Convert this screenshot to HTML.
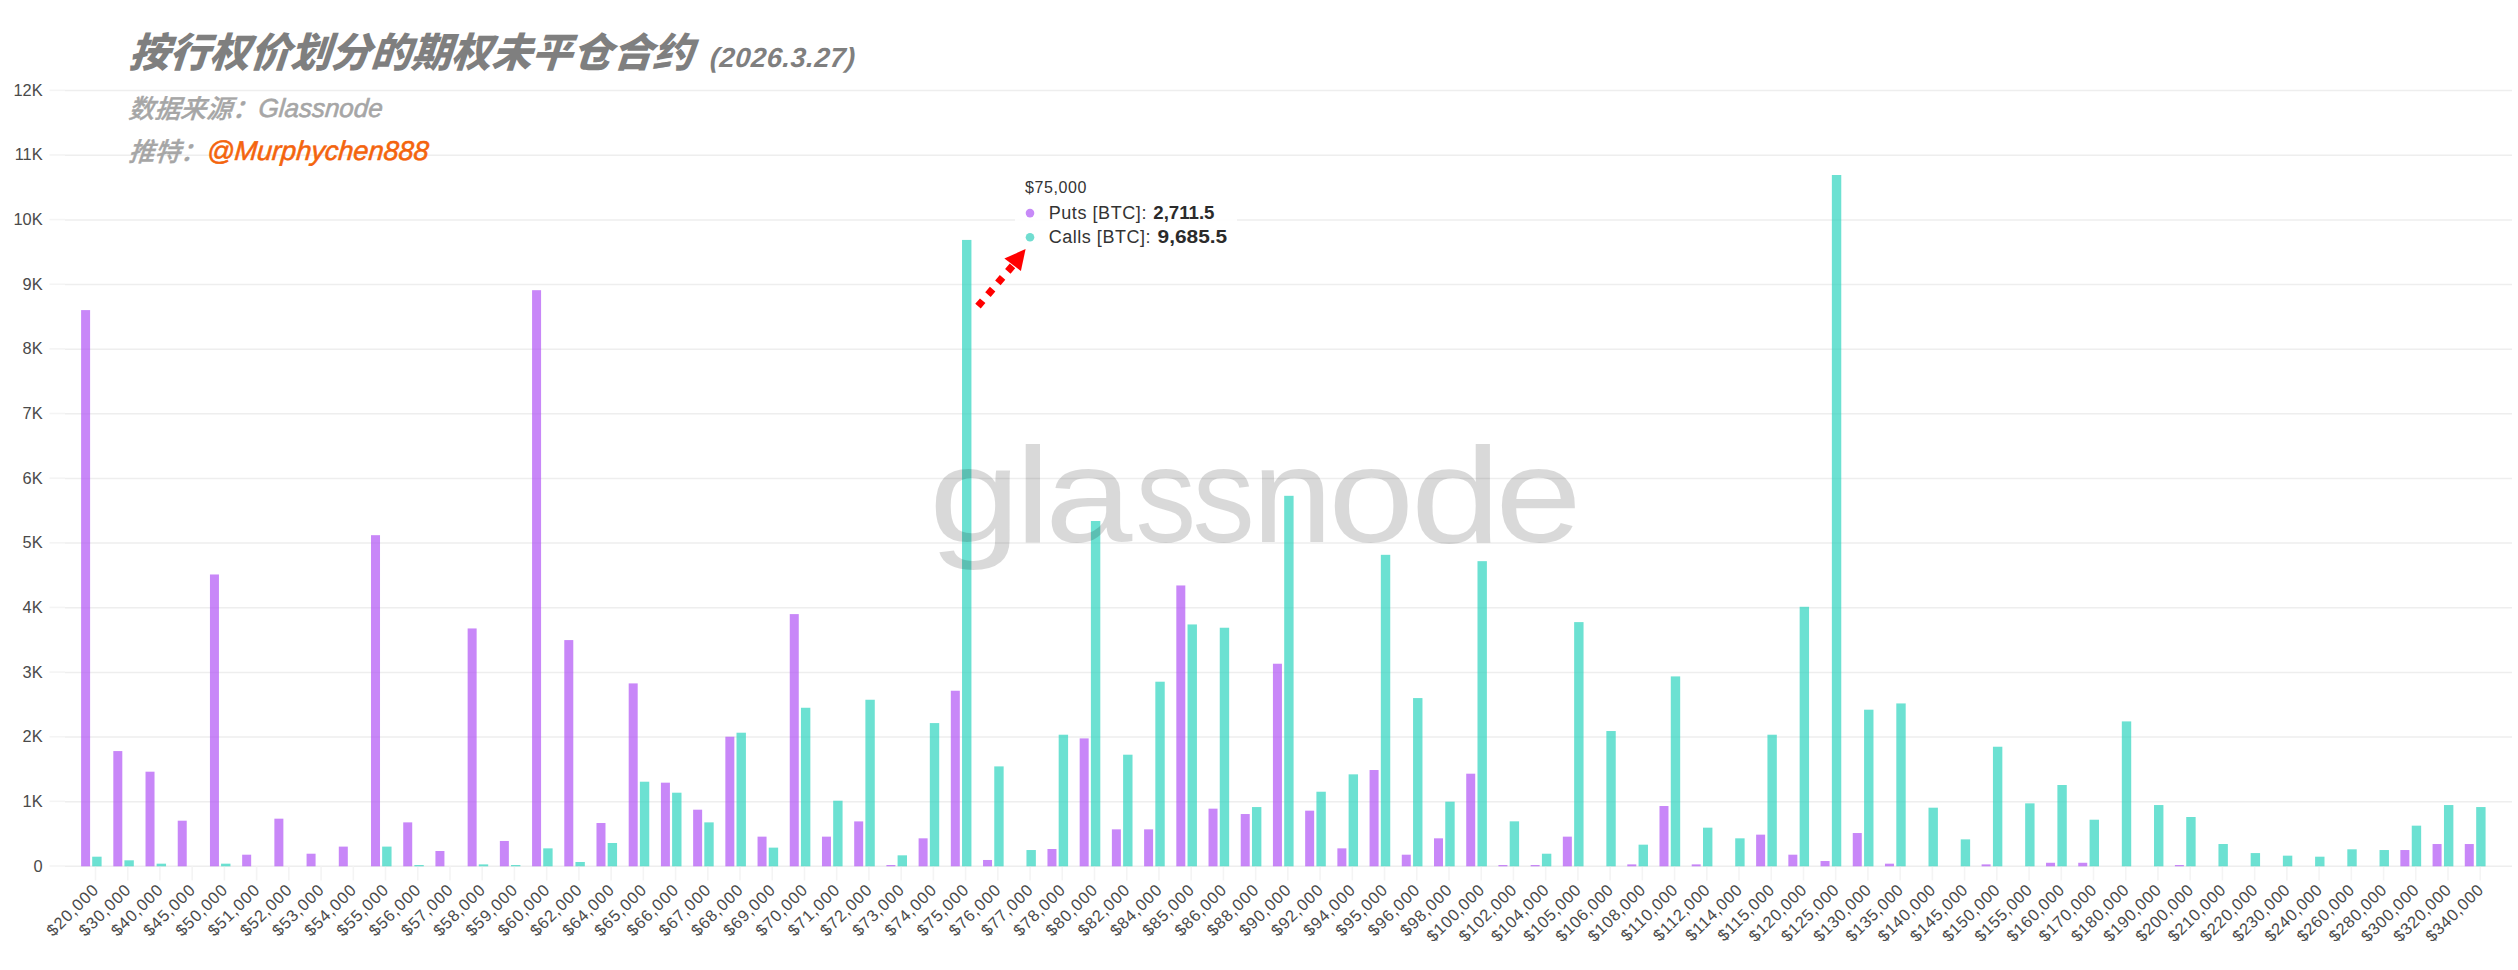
<!DOCTYPE html>
<html lang="zh"><head><meta charset="utf-8"><title>按行权价划分的期权未平仓合约</title>
<style>
html,body{margin:0;padding:0;background:#fff;}
body{width:2518px;height:970px;overflow:hidden;position:relative;}
svg{position:absolute;left:0;top:0;display:block;}
.ax{font-family:"Liberation Sans",sans-serif;font-size:16.4px;fill:#4a4a4a;}
.xl{font-family:"Liberation Sans",sans-serif;font-size:16.5px;letter-spacing:0.9px;fill:#4a4a4a;}
.t1{font-family:"Liberation Sans","Noto Sans CJK SC",sans-serif;font-weight:900;font-style:italic;font-size:40.5px;fill:#7f7f7f;}
.t1d{font-family:"Liberation Sans","Noto Sans CJK SC",sans-serif;font-weight:700;font-style:italic;font-size:27.5px;fill:#7f7f7f;}
.t2{font-family:"Liberation Sans","Noto Sans CJK SC",sans-serif;font-weight:500;font-style:italic;font-size:26px;fill:#a6a6a6;}
.cj{stroke:#a6a6a6;stroke-width:0.35px;}
.la{stroke:#a6a6a6;stroke-width:0.6px;}
.lo{fill:#f4640d;stroke:#f4640d;stroke-width:0.6px;}
.wm{font-family:"Liberation Sans",sans-serif;font-size:135px;fill:rgba(0,0,0,0.15);}
.tt{font-family:"Liberation Sans",sans-serif;fill:#333;}
</style></head><body>
<svg width="2518" height="970" viewBox="0 0 2518 970">
<rect width="2518" height="970" fill="#fff"/>
<g id="grid">
<line x1="49.5" x2="65" y1="866.00" y2="866.00" stroke="#f4f4f4" stroke-width="1.6"/>
<line x1="65" x2="2512" y1="866.30" y2="866.30" stroke="#eeeeee" stroke-width="1.5"/>
<line x1="49.5" x2="65" y1="801.36" y2="801.36" stroke="#f4f4f4" stroke-width="1.6"/>
<line x1="65" x2="2512" y1="801.66" y2="801.66" stroke="#eeeeee" stroke-width="1.5"/>
<line x1="49.5" x2="65" y1="736.72" y2="736.72" stroke="#f4f4f4" stroke-width="1.6"/>
<line x1="65" x2="2512" y1="737.02" y2="737.02" stroke="#eeeeee" stroke-width="1.5"/>
<line x1="49.5" x2="65" y1="672.08" y2="672.08" stroke="#f4f4f4" stroke-width="1.6"/>
<line x1="65" x2="2512" y1="672.38" y2="672.38" stroke="#eeeeee" stroke-width="1.5"/>
<line x1="49.5" x2="65" y1="607.44" y2="607.44" stroke="#f4f4f4" stroke-width="1.6"/>
<line x1="65" x2="2512" y1="607.74" y2="607.74" stroke="#eeeeee" stroke-width="1.5"/>
<line x1="49.5" x2="65" y1="542.80" y2="542.80" stroke="#f4f4f4" stroke-width="1.6"/>
<line x1="65" x2="2512" y1="543.10" y2="543.10" stroke="#eeeeee" stroke-width="1.5"/>
<line x1="49.5" x2="65" y1="478.16" y2="478.16" stroke="#f4f4f4" stroke-width="1.6"/>
<line x1="65" x2="2512" y1="478.46" y2="478.46" stroke="#eeeeee" stroke-width="1.5"/>
<line x1="49.5" x2="65" y1="413.52" y2="413.52" stroke="#f4f4f4" stroke-width="1.6"/>
<line x1="65" x2="2512" y1="413.82" y2="413.82" stroke="#eeeeee" stroke-width="1.5"/>
<line x1="49.5" x2="65" y1="348.88" y2="348.88" stroke="#f4f4f4" stroke-width="1.6"/>
<line x1="65" x2="2512" y1="349.18" y2="349.18" stroke="#eeeeee" stroke-width="1.5"/>
<line x1="49.5" x2="65" y1="284.24" y2="284.24" stroke="#f4f4f4" stroke-width="1.6"/>
<line x1="65" x2="2512" y1="284.54" y2="284.54" stroke="#eeeeee" stroke-width="1.5"/>
<line x1="49.5" x2="65" y1="219.60" y2="219.60" stroke="#f4f4f4" stroke-width="1.6"/>
<line x1="65" x2="2512" y1="219.90" y2="219.90" stroke="#eeeeee" stroke-width="1.5"/>
<line x1="49.5" x2="65" y1="154.96" y2="154.96" stroke="#f4f4f4" stroke-width="1.6"/>
<line x1="65" x2="2512" y1="155.26" y2="155.26" stroke="#eeeeee" stroke-width="1.5"/>
<line x1="49.5" x2="65" y1="90.32" y2="90.32" stroke="#f4f4f4" stroke-width="1.6"/>
<line x1="65" x2="2512" y1="90.62" y2="90.62" stroke="#eeeeee" stroke-width="1.5"/>
</g>
<g id="xticks" stroke="#f4f4f4" stroke-width="1.6">
<line x1="95.50" x2="95.50" y1="866.5" y2="880.5"/>
<line x1="127.73" x2="127.73" y1="866.5" y2="880.5"/>
<line x1="159.95" x2="159.95" y1="866.5" y2="880.5"/>
<line x1="192.18" x2="192.18" y1="866.5" y2="880.5"/>
<line x1="224.40" x2="224.40" y1="866.5" y2="880.5"/>
<line x1="256.63" x2="256.63" y1="866.5" y2="880.5"/>
<line x1="288.86" x2="288.86" y1="866.5" y2="880.5"/>
<line x1="321.08" x2="321.08" y1="866.5" y2="880.5"/>
<line x1="353.31" x2="353.31" y1="866.5" y2="880.5"/>
<line x1="385.53" x2="385.53" y1="866.5" y2="880.5"/>
<line x1="417.76" x2="417.76" y1="866.5" y2="880.5"/>
<line x1="449.99" x2="449.99" y1="866.5" y2="880.5"/>
<line x1="482.21" x2="482.21" y1="866.5" y2="880.5"/>
<line x1="514.44" x2="514.44" y1="866.5" y2="880.5"/>
<line x1="546.66" x2="546.66" y1="866.5" y2="880.5"/>
<line x1="578.89" x2="578.89" y1="866.5" y2="880.5"/>
<line x1="611.12" x2="611.12" y1="866.5" y2="880.5"/>
<line x1="643.34" x2="643.34" y1="866.5" y2="880.5"/>
<line x1="675.57" x2="675.57" y1="866.5" y2="880.5"/>
<line x1="707.79" x2="707.79" y1="866.5" y2="880.5"/>
<line x1="740.02" x2="740.02" y1="866.5" y2="880.5"/>
<line x1="772.25" x2="772.25" y1="866.5" y2="880.5"/>
<line x1="804.47" x2="804.47" y1="866.5" y2="880.5"/>
<line x1="836.70" x2="836.70" y1="866.5" y2="880.5"/>
<line x1="868.92" x2="868.92" y1="866.5" y2="880.5"/>
<line x1="901.15" x2="901.15" y1="866.5" y2="880.5"/>
<line x1="933.38" x2="933.38" y1="866.5" y2="880.5"/>
<line x1="965.60" x2="965.60" y1="866.5" y2="880.5"/>
<line x1="997.83" x2="997.83" y1="866.5" y2="880.5"/>
<line x1="1030.05" x2="1030.05" y1="866.5" y2="880.5"/>
<line x1="1062.28" x2="1062.28" y1="866.5" y2="880.5"/>
<line x1="1094.51" x2="1094.51" y1="866.5" y2="880.5"/>
<line x1="1126.73" x2="1126.73" y1="866.5" y2="880.5"/>
<line x1="1158.96" x2="1158.96" y1="866.5" y2="880.5"/>
<line x1="1191.18" x2="1191.18" y1="866.5" y2="880.5"/>
<line x1="1223.41" x2="1223.41" y1="866.5" y2="880.5"/>
<line x1="1255.64" x2="1255.64" y1="866.5" y2="880.5"/>
<line x1="1287.86" x2="1287.86" y1="866.5" y2="880.5"/>
<line x1="1320.09" x2="1320.09" y1="866.5" y2="880.5"/>
<line x1="1352.31" x2="1352.31" y1="866.5" y2="880.5"/>
<line x1="1384.54" x2="1384.54" y1="866.5" y2="880.5"/>
<line x1="1416.77" x2="1416.77" y1="866.5" y2="880.5"/>
<line x1="1448.99" x2="1448.99" y1="866.5" y2="880.5"/>
<line x1="1481.22" x2="1481.22" y1="866.5" y2="880.5"/>
<line x1="1513.44" x2="1513.44" y1="866.5" y2="880.5"/>
<line x1="1545.67" x2="1545.67" y1="866.5" y2="880.5"/>
<line x1="1577.90" x2="1577.90" y1="866.5" y2="880.5"/>
<line x1="1610.12" x2="1610.12" y1="866.5" y2="880.5"/>
<line x1="1642.35" x2="1642.35" y1="866.5" y2="880.5"/>
<line x1="1674.57" x2="1674.57" y1="866.5" y2="880.5"/>
<line x1="1706.80" x2="1706.80" y1="866.5" y2="880.5"/>
<line x1="1739.03" x2="1739.03" y1="866.5" y2="880.5"/>
<line x1="1771.25" x2="1771.25" y1="866.5" y2="880.5"/>
<line x1="1803.48" x2="1803.48" y1="866.5" y2="880.5"/>
<line x1="1835.70" x2="1835.70" y1="866.5" y2="880.5"/>
<line x1="1867.93" x2="1867.93" y1="866.5" y2="880.5"/>
<line x1="1900.16" x2="1900.16" y1="866.5" y2="880.5"/>
<line x1="1932.38" x2="1932.38" y1="866.5" y2="880.5"/>
<line x1="1964.61" x2="1964.61" y1="866.5" y2="880.5"/>
<line x1="1996.83" x2="1996.83" y1="866.5" y2="880.5"/>
<line x1="2029.06" x2="2029.06" y1="866.5" y2="880.5"/>
<line x1="2061.29" x2="2061.29" y1="866.5" y2="880.5"/>
<line x1="2093.51" x2="2093.51" y1="866.5" y2="880.5"/>
<line x1="2125.74" x2="2125.74" y1="866.5" y2="880.5"/>
<line x1="2157.96" x2="2157.96" y1="866.5" y2="880.5"/>
<line x1="2190.19" x2="2190.19" y1="866.5" y2="880.5"/>
<line x1="2222.42" x2="2222.42" y1="866.5" y2="880.5"/>
<line x1="2254.64" x2="2254.64" y1="866.5" y2="880.5"/>
<line x1="2286.87" x2="2286.87" y1="866.5" y2="880.5"/>
<line x1="2319.09" x2="2319.09" y1="866.5" y2="880.5"/>
<line x1="2351.32" x2="2351.32" y1="866.5" y2="880.5"/>
<line x1="2383.55" x2="2383.55" y1="866.5" y2="880.5"/>
<line x1="2415.77" x2="2415.77" y1="866.5" y2="880.5"/>
<line x1="2448.00" x2="2448.00" y1="866.5" y2="880.5"/>
<line x1="2480.22" x2="2480.22" y1="866.5" y2="880.5"/>
</g>
<g id="ylabels" class="ax" text-anchor="end">
<text x="42.6" y="871.50">0</text>
<text x="42.6" y="806.86">1K</text>
<text x="42.6" y="742.22">2K</text>
<text x="42.6" y="677.58">3K</text>
<text x="42.6" y="612.94">4K</text>
<text x="42.6" y="548.30">5K</text>
<text x="42.6" y="483.66">6K</text>
<text x="42.6" y="419.02">7K</text>
<text x="42.6" y="354.38">8K</text>
<text x="42.6" y="289.74">9K</text>
<text x="42.6" y="225.10">10K</text>
<text x="42.6" y="160.46">11K</text>
<text x="42.6" y="95.82">12K</text>
</g>
<g id="puts" fill="rgba(177,84,245,0.70)">
<rect x="81.10" y="310.10" width="9.0" height="556.20"/>
<rect x="113.31" y="751.07" width="9.0" height="115.23"/>
<rect x="145.52" y="771.69" width="9.0" height="94.61"/>
<rect x="177.74" y="820.69" width="9.0" height="45.61"/>
<rect x="209.95" y="574.47" width="9.0" height="291.83"/>
<rect x="242.16" y="854.69" width="9.0" height="11.61"/>
<rect x="274.37" y="818.68" width="9.0" height="47.62"/>
<rect x="306.58" y="853.72" width="9.0" height="12.58"/>
<rect x="338.80" y="846.61" width="9.0" height="19.69"/>
<rect x="371.01" y="535.17" width="9.0" height="331.13"/>
<rect x="403.22" y="822.37" width="9.0" height="43.93"/>
<rect x="435.43" y="851.00" width="9.0" height="15.30"/>
<rect x="467.64" y="628.45" width="9.0" height="237.85"/>
<rect x="499.86" y="840.98" width="9.0" height="25.32"/>
<rect x="532.07" y="290.19" width="9.0" height="576.11"/>
<rect x="564.28" y="640.08" width="9.0" height="226.22"/>
<rect x="596.49" y="823.01" width="9.0" height="43.29"/>
<rect x="628.70" y="683.39" width="9.0" height="182.91"/>
<rect x="660.92" y="782.68" width="9.0" height="83.62"/>
<rect x="693.13" y="809.70" width="9.0" height="56.60"/>
<rect x="725.34" y="736.72" width="9.0" height="129.58"/>
<rect x="757.55" y="836.65" width="9.0" height="29.65"/>
<rect x="789.76" y="614.10" width="9.0" height="252.20"/>
<rect x="821.98" y="836.65" width="9.0" height="29.65"/>
<rect x="854.19" y="821.40" width="9.0" height="44.90"/>
<rect x="886.40" y="865.03" width="9.0" height="1.27"/>
<rect x="918.61" y="838.33" width="9.0" height="27.97"/>
<rect x="950.82" y="690.73" width="9.0" height="175.57"/>
<rect x="983.04" y="859.99" width="9.0" height="6.31"/>
<rect x="1047.46" y="849.00" width="9.0" height="17.30"/>
<rect x="1079.67" y="738.40" width="9.0" height="127.90"/>
<rect x="1111.88" y="829.35" width="9.0" height="36.95"/>
<rect x="1144.10" y="829.35" width="9.0" height="36.95"/>
<rect x="1176.31" y="585.46" width="9.0" height="280.84"/>
<rect x="1208.52" y="808.66" width="9.0" height="57.64"/>
<rect x="1240.73" y="814.03" width="9.0" height="52.27"/>
<rect x="1272.94" y="663.74" width="9.0" height="202.56"/>
<rect x="1305.16" y="810.67" width="9.0" height="55.63"/>
<rect x="1337.37" y="848.35" width="9.0" height="17.95"/>
<rect x="1369.58" y="770.01" width="9.0" height="96.29"/>
<rect x="1401.79" y="854.69" width="9.0" height="11.61"/>
<rect x="1434.00" y="838.33" width="9.0" height="27.97"/>
<rect x="1466.22" y="773.69" width="9.0" height="92.61"/>
<rect x="1498.43" y="865.03" width="9.0" height="1.27"/>
<rect x="1530.64" y="865.03" width="9.0" height="1.27"/>
<rect x="1562.85" y="836.65" width="9.0" height="29.65"/>
<rect x="1627.28" y="864.38" width="9.0" height="1.92"/>
<rect x="1659.49" y="806.01" width="9.0" height="60.29"/>
<rect x="1691.70" y="864.38" width="9.0" height="1.92"/>
<rect x="1756.12" y="834.65" width="9.0" height="31.65"/>
<rect x="1788.34" y="854.69" width="9.0" height="11.61"/>
<rect x="1820.55" y="861.02" width="9.0" height="5.28"/>
<rect x="1852.76" y="833.03" width="9.0" height="33.27"/>
<rect x="1884.97" y="863.67" width="9.0" height="2.63"/>
<rect x="1981.61" y="864.38" width="9.0" height="1.92"/>
<rect x="2046.03" y="862.77" width="9.0" height="3.53"/>
<rect x="2078.24" y="862.77" width="9.0" height="3.53"/>
<rect x="2174.88" y="865.03" width="9.0" height="1.27"/>
<rect x="2400.36" y="850.03" width="9.0" height="16.27"/>
<rect x="2432.58" y="844.02" width="9.0" height="22.28"/>
<rect x="2464.79" y="844.02" width="9.0" height="22.28"/>
</g>
<g id="calls" fill="rgba(45,212,191,0.70)">
<rect x="92.20" y="856.69" width="9.4" height="9.61"/>
<rect x="124.42" y="860.31" width="9.4" height="5.99"/>
<rect x="156.63" y="863.67" width="9.4" height="2.63"/>
<rect x="221.06" y="863.67" width="9.4" height="2.63"/>
<rect x="382.14" y="846.61" width="9.4" height="19.69"/>
<rect x="414.36" y="865.03" width="9.4" height="1.27"/>
<rect x="478.79" y="864.38" width="9.4" height="1.92"/>
<rect x="511.01" y="865.03" width="9.4" height="1.27"/>
<rect x="543.22" y="848.35" width="9.4" height="17.95"/>
<rect x="575.44" y="861.99" width="9.4" height="4.31"/>
<rect x="607.66" y="842.99" width="9.4" height="23.31"/>
<rect x="639.87" y="781.71" width="9.4" height="84.59"/>
<rect x="672.09" y="792.70" width="9.4" height="73.60"/>
<rect x="704.30" y="822.37" width="9.4" height="43.93"/>
<rect x="736.52" y="732.71" width="9.4" height="133.59"/>
<rect x="768.74" y="847.64" width="9.4" height="18.66"/>
<rect x="800.95" y="707.76" width="9.4" height="158.54"/>
<rect x="833.17" y="800.71" width="9.4" height="65.59"/>
<rect x="865.38" y="699.75" width="9.4" height="166.55"/>
<rect x="897.60" y="855.33" width="9.4" height="10.97"/>
<rect x="929.82" y="723.08" width="9.4" height="143.22"/>
<rect x="962.03" y="239.93" width="9.4" height="626.37"/>
<rect x="994.25" y="766.39" width="9.4" height="99.91"/>
<rect x="1026.46" y="850.03" width="9.4" height="16.27"/>
<rect x="1058.68" y="734.72" width="9.4" height="131.58"/>
<rect x="1090.90" y="521.02" width="9.4" height="345.28"/>
<rect x="1123.11" y="754.69" width="9.4" height="111.61"/>
<rect x="1155.33" y="681.71" width="9.4" height="184.59"/>
<rect x="1187.54" y="624.44" width="9.4" height="241.86"/>
<rect x="1219.76" y="627.74" width="9.4" height="238.56"/>
<rect x="1251.98" y="807.05" width="9.4" height="59.25"/>
<rect x="1284.19" y="495.81" width="9.4" height="370.49"/>
<rect x="1316.41" y="791.73" width="9.4" height="74.57"/>
<rect x="1348.62" y="774.34" width="9.4" height="91.96"/>
<rect x="1380.84" y="554.82" width="9.4" height="311.48"/>
<rect x="1413.06" y="698.07" width="9.4" height="168.23"/>
<rect x="1445.27" y="801.68" width="9.4" height="64.62"/>
<rect x="1477.49" y="561.16" width="9.4" height="305.14"/>
<rect x="1509.70" y="821.33" width="9.4" height="44.97"/>
<rect x="1541.92" y="853.72" width="9.4" height="12.58"/>
<rect x="1574.14" y="622.11" width="9.4" height="244.19"/>
<rect x="1606.35" y="731.03" width="9.4" height="135.27"/>
<rect x="1638.57" y="844.67" width="9.4" height="21.63"/>
<rect x="1670.78" y="676.41" width="9.4" height="189.89"/>
<rect x="1703.00" y="827.67" width="9.4" height="38.63"/>
<rect x="1735.22" y="838.33" width="9.4" height="27.97"/>
<rect x="1767.43" y="734.72" width="9.4" height="131.58"/>
<rect x="1799.65" y="606.79" width="9.4" height="259.51"/>
<rect x="1831.86" y="175.00" width="9.4" height="691.30"/>
<rect x="1864.08" y="709.70" width="9.4" height="156.60"/>
<rect x="1896.30" y="703.43" width="9.4" height="162.87"/>
<rect x="1928.51" y="807.69" width="9.4" height="58.61"/>
<rect x="1960.73" y="839.37" width="9.4" height="26.93"/>
<rect x="1992.94" y="746.74" width="9.4" height="119.56"/>
<rect x="2025.16" y="803.36" width="9.4" height="62.94"/>
<rect x="2057.38" y="785.01" width="9.4" height="81.29"/>
<rect x="2089.59" y="819.72" width="9.4" height="46.58"/>
<rect x="2121.81" y="721.40" width="9.4" height="144.90"/>
<rect x="2154.02" y="805.04" width="9.4" height="61.26"/>
<rect x="2186.24" y="817.00" width="9.4" height="49.30"/>
<rect x="2218.46" y="844.02" width="9.4" height="22.28"/>
<rect x="2250.67" y="853.07" width="9.4" height="13.23"/>
<rect x="2282.89" y="855.66" width="9.4" height="10.64"/>
<rect x="2315.10" y="856.69" width="9.4" height="9.61"/>
<rect x="2347.32" y="849.32" width="9.4" height="16.98"/>
<rect x="2379.54" y="850.03" width="9.4" height="16.27"/>
<rect x="2411.75" y="825.66" width="9.4" height="40.64"/>
<rect x="2443.97" y="805.04" width="9.4" height="61.26"/>
<rect x="2476.18" y="807.05" width="9.4" height="59.25"/>
</g>
<g id="xlabels" class="xl" text-anchor="end">
<text transform="translate(95.60,886.4) rotate(-45)" x="0" y="6.1">$20,000</text>
<text transform="translate(127.83,886.4) rotate(-45)" x="0" y="6.1">$30,000</text>
<text transform="translate(160.05,886.4) rotate(-45)" x="0" y="6.1">$40,000</text>
<text transform="translate(192.28,886.4) rotate(-45)" x="0" y="6.1">$45,000</text>
<text transform="translate(224.50,886.4) rotate(-45)" x="0" y="6.1">$50,000</text>
<text transform="translate(256.73,886.4) rotate(-45)" x="0" y="6.1">$51,000</text>
<text transform="translate(288.96,886.4) rotate(-45)" x="0" y="6.1">$52,000</text>
<text transform="translate(321.18,886.4) rotate(-45)" x="0" y="6.1">$53,000</text>
<text transform="translate(353.41,886.4) rotate(-45)" x="0" y="6.1">$54,000</text>
<text transform="translate(385.63,886.4) rotate(-45)" x="0" y="6.1">$55,000</text>
<text transform="translate(417.86,886.4) rotate(-45)" x="0" y="6.1">$56,000</text>
<text transform="translate(450.09,886.4) rotate(-45)" x="0" y="6.1">$57,000</text>
<text transform="translate(482.31,886.4) rotate(-45)" x="0" y="6.1">$58,000</text>
<text transform="translate(514.54,886.4) rotate(-45)" x="0" y="6.1">$59,000</text>
<text transform="translate(546.76,886.4) rotate(-45)" x="0" y="6.1">$60,000</text>
<text transform="translate(578.99,886.4) rotate(-45)" x="0" y="6.1">$62,000</text>
<text transform="translate(611.22,886.4) rotate(-45)" x="0" y="6.1">$64,000</text>
<text transform="translate(643.44,886.4) rotate(-45)" x="0" y="6.1">$65,000</text>
<text transform="translate(675.67,886.4) rotate(-45)" x="0" y="6.1">$66,000</text>
<text transform="translate(707.89,886.4) rotate(-45)" x="0" y="6.1">$67,000</text>
<text transform="translate(740.12,886.4) rotate(-45)" x="0" y="6.1">$68,000</text>
<text transform="translate(772.35,886.4) rotate(-45)" x="0" y="6.1">$69,000</text>
<text transform="translate(804.57,886.4) rotate(-45)" x="0" y="6.1">$70,000</text>
<text transform="translate(836.80,886.4) rotate(-45)" x="0" y="6.1">$71,000</text>
<text transform="translate(869.02,886.4) rotate(-45)" x="0" y="6.1">$72,000</text>
<text transform="translate(901.25,886.4) rotate(-45)" x="0" y="6.1">$73,000</text>
<text transform="translate(933.48,886.4) rotate(-45)" x="0" y="6.1">$74,000</text>
<text transform="translate(965.70,886.4) rotate(-45)" x="0" y="6.1">$75,000</text>
<text transform="translate(997.93,886.4) rotate(-45)" x="0" y="6.1">$76,000</text>
<text transform="translate(1030.15,886.4) rotate(-45)" x="0" y="6.1">$77,000</text>
<text transform="translate(1062.38,886.4) rotate(-45)" x="0" y="6.1">$78,000</text>
<text transform="translate(1094.61,886.4) rotate(-45)" x="0" y="6.1">$80,000</text>
<text transform="translate(1126.83,886.4) rotate(-45)" x="0" y="6.1">$82,000</text>
<text transform="translate(1159.06,886.4) rotate(-45)" x="0" y="6.1">$84,000</text>
<text transform="translate(1191.28,886.4) rotate(-45)" x="0" y="6.1">$85,000</text>
<text transform="translate(1223.51,886.4) rotate(-45)" x="0" y="6.1">$86,000</text>
<text transform="translate(1255.74,886.4) rotate(-45)" x="0" y="6.1">$88,000</text>
<text transform="translate(1287.96,886.4) rotate(-45)" x="0" y="6.1">$90,000</text>
<text transform="translate(1320.19,886.4) rotate(-45)" x="0" y="6.1">$92,000</text>
<text transform="translate(1352.41,886.4) rotate(-45)" x="0" y="6.1">$94,000</text>
<text transform="translate(1384.64,886.4) rotate(-45)" x="0" y="6.1">$95,000</text>
<text transform="translate(1416.87,886.4) rotate(-45)" x="0" y="6.1">$96,000</text>
<text transform="translate(1449.09,886.4) rotate(-45)" x="0" y="6.1">$98,000</text>
<text transform="translate(1481.32,886.4) rotate(-45)" x="0" y="6.1" letter-spacing="0.65">$100,000</text>
<text transform="translate(1513.54,886.4) rotate(-45)" x="0" y="6.1" letter-spacing="0.65">$102,000</text>
<text transform="translate(1545.77,886.4) rotate(-45)" x="0" y="6.1" letter-spacing="0.65">$104,000</text>
<text transform="translate(1578.00,886.4) rotate(-45)" x="0" y="6.1" letter-spacing="0.65">$105,000</text>
<text transform="translate(1610.22,886.4) rotate(-45)" x="0" y="6.1" letter-spacing="0.65">$106,000</text>
<text transform="translate(1642.45,886.4) rotate(-45)" x="0" y="6.1" letter-spacing="0.65">$108,000</text>
<text transform="translate(1674.67,886.4) rotate(-45)" x="0" y="6.1" letter-spacing="0.65">$110,000</text>
<text transform="translate(1706.90,886.4) rotate(-45)" x="0" y="6.1" letter-spacing="0.65">$112,000</text>
<text transform="translate(1739.13,886.4) rotate(-45)" x="0" y="6.1" letter-spacing="0.65">$114,000</text>
<text transform="translate(1771.35,886.4) rotate(-45)" x="0" y="6.1" letter-spacing="0.65">$115,000</text>
<text transform="translate(1803.58,886.4) rotate(-45)" x="0" y="6.1" letter-spacing="0.65">$120,000</text>
<text transform="translate(1835.80,886.4) rotate(-45)" x="0" y="6.1" letter-spacing="0.65">$125,000</text>
<text transform="translate(1868.03,886.4) rotate(-45)" x="0" y="6.1" letter-spacing="0.65">$130,000</text>
<text transform="translate(1900.26,886.4) rotate(-45)" x="0" y="6.1" letter-spacing="0.65">$135,000</text>
<text transform="translate(1932.48,886.4) rotate(-45)" x="0" y="6.1" letter-spacing="0.65">$140,000</text>
<text transform="translate(1964.71,886.4) rotate(-45)" x="0" y="6.1" letter-spacing="0.65">$145,000</text>
<text transform="translate(1996.93,886.4) rotate(-45)" x="0" y="6.1" letter-spacing="0.65">$150,000</text>
<text transform="translate(2029.16,886.4) rotate(-45)" x="0" y="6.1" letter-spacing="0.65">$155,000</text>
<text transform="translate(2061.39,886.4) rotate(-45)" x="0" y="6.1" letter-spacing="0.65">$160,000</text>
<text transform="translate(2093.61,886.4) rotate(-45)" x="0" y="6.1" letter-spacing="0.65">$170,000</text>
<text transform="translate(2125.84,886.4) rotate(-45)" x="0" y="6.1" letter-spacing="0.65">$180,000</text>
<text transform="translate(2158.06,886.4) rotate(-45)" x="0" y="6.1" letter-spacing="0.65">$190,000</text>
<text transform="translate(2190.29,886.4) rotate(-45)" x="0" y="6.1" letter-spacing="0.65">$200,000</text>
<text transform="translate(2222.52,886.4) rotate(-45)" x="0" y="6.1" letter-spacing="0.65">$210,000</text>
<text transform="translate(2254.74,886.4) rotate(-45)" x="0" y="6.1" letter-spacing="0.65">$220,000</text>
<text transform="translate(2286.97,886.4) rotate(-45)" x="0" y="6.1" letter-spacing="0.65">$230,000</text>
<text transform="translate(2319.19,886.4) rotate(-45)" x="0" y="6.1" letter-spacing="0.65">$240,000</text>
<text transform="translate(2351.42,886.4) rotate(-45)" x="0" y="6.1" letter-spacing="0.65">$260,000</text>
<text transform="translate(2383.65,886.4) rotate(-45)" x="0" y="6.1" letter-spacing="0.65">$280,000</text>
<text transform="translate(2415.87,886.4) rotate(-45)" x="0" y="6.1" letter-spacing="0.65">$300,000</text>
<text transform="translate(2448.10,886.4) rotate(-45)" x="0" y="6.1" letter-spacing="0.65">$320,000</text>
<text transform="translate(2480.32,886.4) rotate(-45)" x="0" y="6.1" letter-spacing="0.65">$340,000</text>
</g>
<rect x="0" y="941" width="2518" height="29" fill="#fff"/>
<text class="wm" y="542"><tspan x="928.75" textLength="92.01" lengthAdjust="spacingAndGlyphs">g</tspan><tspan x="1014.84" textLength="36.15" lengthAdjust="spacingAndGlyphs">l</tspan><tspan x="1044.92" textLength="87.45" lengthAdjust="spacingAndGlyphs">a</tspan><tspan x="1135.42" textLength="60.66" lengthAdjust="spacingAndGlyphs">s</tspan><tspan x="1192.53" textLength="62.26" lengthAdjust="spacingAndGlyphs">s</tspan><tspan x="1252.09" textLength="80.52" lengthAdjust="spacingAndGlyphs">n</tspan><tspan x="1328.22" textLength="85.87" lengthAdjust="spacingAndGlyphs">o</tspan><tspan x="1410.79" textLength="90.15" lengthAdjust="spacingAndGlyphs">d</tspan><tspan x="1495.29" textLength="86.52" lengthAdjust="spacingAndGlyphs">e</tspan></text>
<g id="titles">
<g transform="translate(128.3,67.3) skewX(-4.6)"><text class="t1" x="0" y="0" letter-spacing="-0.2">按行权价划分的期权未平仓合约</text></g>
<g transform="translate(709.5,66.5) skewX(-4.6)"><text class="t1d" x="0" y="0" textLength="145">(2026.3.27)</text></g>
<g transform="translate(128,117) skewX(-4.6)"><text class="t2" x="0" y="0"><tspan dy="1.3" class="cj">数据来源：</tspan><tspan dy="-1.3" class="la">Glassnode</tspan></text></g>
<g transform="translate(128,160) skewX(-4.6)"><text class="t2" x="0" y="0"><tspan dy="1.3" class="cj">推特：</tspan><tspan dx="0.5" dy="-1.3" class="lo" font-size="27.1">@Murphychen888</tspan></text></g>
</g>
<g id="tooltip">
<rect x="1015" y="169" width="222" height="88" fill="rgba(255,255,255,0.92)"/>
<text class="tt" x="1025" y="192.6" font-size="16" textLength="61.5">$75,000</text>
<circle cx="1030" cy="213.1" r="4.3" fill="#c78af8"/>
<circle cx="1030" cy="237.2" r="4.3" fill="#70ddd0"/>
<text class="tt" y="219.1" font-size="18"><tspan x="1048.7" textLength="97.7">Puts [BTC]:</tspan> <tspan x="1153.3" textLength="61.2" lengthAdjust="spacingAndGlyphs" font-weight="700" fill="#2b2b2b">2,711.5</tspan></text>
<text class="tt" y="243.3" font-size="18"><tspan x="1048.7" textLength="101.8">Calls [BTC]:</tspan> <tspan x="1157.6" textLength="69.6" lengthAdjust="spacingAndGlyphs" font-weight="700" fill="#2b2b2b">9,685.5</tspan></text>
</g>
<g id="arrow">
<line x1="978.0" y1="306.2" x2="1015.5" y2="262.3" stroke="#ff0000" stroke-width="7.2" stroke-dasharray="7.2 8.1"/>
<polygon points="1025.6,249.1 1004.4,258.5 1020.9,271" fill="#ff0000"/>
</g>
</svg></body></html>
